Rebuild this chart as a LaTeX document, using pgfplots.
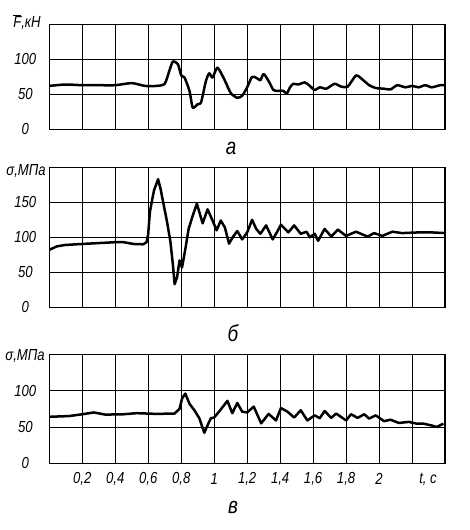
\documentclass[border=0pt]{standalone}
\usepackage{fontspec}
\setmainfont{Liberation Sans}[FakeStretch=0.82]
\usepackage{pgfplots}
\pgfplotsset{compat=1.18}

\newcommand\lblfont{\fontsize{16}{18}\selectfont\itshape}
\pgfplotsset{
  panel/.style={
    scale only axis, width=395.7pt,
    xmin=0, xmax=2.4, ymin=0,
    xtick={0.2,0.4,0.6,0.8,1,1.2,1.4,1.6,1.8,2,2.2},
    xticklabels={},
    grid=major,
    major grid style={black, line width=0.9pt},
    axis line style={black, line width=1.3pt},
    major tick length=0pt,
    tick label style={font=\lblfont},
    yticklabel style={anchor=center, xshift=-24pt},
    xticklabel style={anchor=center, yshift=-16pt},
  },
  curve/.style={black, line width=2.5pt, line join=round, no marks},
}

\begin{document}
\begin{tikzpicture}
\useasboundingbox (0,0) rectangle (470pt,-530pt);

% a
\begin{axis}[panel, at={(49.3pt,-129.3pt)}, anchor=south west, height=105pt,
  ymax=150, ytick={0,50,100}, yticklabels={0,50,100}]
\addplot[curve, smooth, tension=0.4] coordinates {
(0,62) (0.1,64) (0.2,63) (0.3,63) (0.4,63) (0.5,66) (0.58,62) (0.65,62)
(0.7,65) (0.73,85) (0.75,97) (0.78,93) (0.8,77) (0.82,74) (0.85,55)
(0.87,31) (0.9,36) (0.92,38) (0.95,69) (0.97,80) (0.99,74) (1.02,88)
(1.06,72) (1.1,52) (1.14,45) (1.17,48) (1.2,60) (1.23,75) (1.26,73)
(1.28,70) (1.3,79) (1.33,69) (1.36,56) (1.39,55) (1.42,55) (1.44,51)
(1.46,60) (1.48,65) (1.51,64) (1.55,67) (1.58,62) (1.61,56) (1.64,60)
(1.68,58) (1.73,65) (1.77,61) (1.81,61) (1.86,77) (1.89,73) (1.94,63)
(1.98,59) (2.03,58) (2.07,57) (2.11,63) (2.16,60) (2.2,62) (2.24,60)
(2.28,63) (2.32,60) (2.37,63) (2.4,63)
};
\end{axis}

% b
\begin{axis}[panel, at={(49.3pt,-307.3pt)}, anchor=south west, height=140pt,
  ymax=200, ytick={0,50,100,150}, yticklabels={0,50,100,150}]
\addplot[curve] coordinates {
(0,82) (0.045,87) (0.095,89) (0.2,90.5) (0.4,93) (0.45,93) (0.51,90.5)
(0.57,90) (0.59,93) (0.6,105) (0.61,136) (0.625,155) (0.635,167) (0.66,183)
(0.675,169) (0.695,145) (0.715,121) (0.735,93) (0.75,60) (0.76,33)
(0.775,43) (0.79,67) (0.805,57) (0.825,83) (0.845,112) (0.87,131)
(0.895,148) (0.93,120) (0.96,140) (0.99,124) (1.015,110) (1.04,124)
(1.065,114) (1.09,91) (1.115,101) (1.14,109) (1.17,97) (1.2,107)
(1.23,125) (1.255,112) (1.28,105) (1.315,117) (1.355,97) (1.38,107)
(1.405,118) (1.45,107) (1.485,117) (1.525,105) (1.56,108) (1.58,100)
(1.61,105) (1.63,95) (1.67,112) (1.71,101) (1.75,111) (1.8,102) (1.86,108)
(1.93,101) (1.97,106) (2.02,102) (2.08,108) (2.14,106) (2.24,107)
(2.32,107) (2.4,106)
};
\end{axis}

% c
\begin{axis}[panel, at={(49.3pt,-463.3pt)}, anchor=south west, height=109pt,
  ymax=150, ytick={0,50,100}, yticklabels={0,50,100},
  xticklabels={{0,2},{0,4},{0,6},{0,8},1,{1,2},{1,4},{1,6},{1,8},2,{}}]
\addplot[curve] coordinates {
(0,64) (0.12,65) (0.2,67.5) (0.27,70) (0.34,67) (0.45,67.5) (0.53,69)
(0.65,68) (0.76,68.5) (0.79,75) (0.805,89) (0.825,96) (0.85,82) (0.88,73)
(0.91,62) (0.94,42) (0.965,55) (0.98,62) (1.0,63) (1.04,74) (1.08,86)
(1.11,69) (1.14,83) (1.17,71) (1.2,70) (1.24,78) (1.285,55) (1.33,68)
(1.375,59) (1.405,76) (1.445,71) (1.485,63) (1.525,73) (1.565,59)
(1.61,66) (1.64,62) (1.67,72) (1.71,62.5) (1.74,68.5) (1.8,59) (1.83,67.5)
(1.87,62.5) (1.91,67.5) (1.94,61.5) (1.98,66) (2.03,58) (2.07,60)
(2.12,55.5) (2.18,57) (2.23,54.5) (2.27,54.5) (2.32,52) (2.35,50)
(2.39,54.5)
};
\end{axis}

\begin{scope}[every node/.style={font=\lblfont}]
\node at (27pt,-22pt) {$\overline{\mbox{F}}$,кН};
\node at (26pt,-171pt) {σ,МПа};
\node at (25pt,-356pt) {σ,МПа};
\node at (428pt,-479pt) {t, с};
\end{scope}
\begin{scope}[every node/.style={font=\fontsize{23}{25}\selectfont\itshape}]
\node at (231pt,-148pt) {а};
\node at (233pt,-333pt) {б};
\node at (233pt,-507pt) {в};
\end{scope}
\end{tikzpicture}
\end{document}
